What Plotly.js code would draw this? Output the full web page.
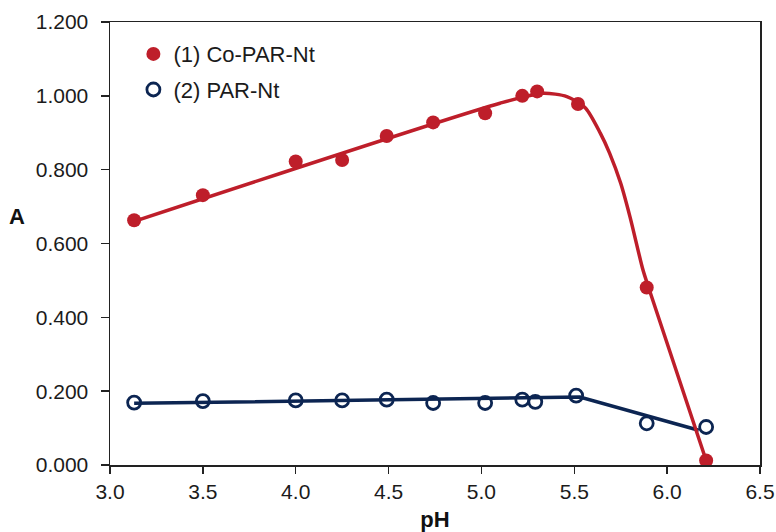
<!DOCTYPE html>
<html>
<head>
<meta charset="utf-8">
<script src="https://cdn.plot.ly/plotly-3.0.1.min.js"></script>
<style>
  html, body { margin: 0; padding: 0; background: #ffffff; }
  #chart { width: 776px; height: 532px; }
</style>
</head>
<body>
<div id="chart"></div>
<script>
// Absorbance vs pH: measured points
const phCo  = [3.13, 3.50, 4.00, 4.25, 4.49, 4.74, 5.02, 5.22, 5.30, 5.52, 5.89, 6.21];
const aCo   = [0.663, 0.731, 0.822, 0.826, 0.891, 0.928, 0.953, 1.000, 1.012, 0.978, 0.481, 0.012];
const phPar = [3.13, 3.50, 4.00, 4.25, 4.49, 4.74, 5.02, 5.22, 5.29, 5.51, 5.89, 6.21];
const aPar  = [0.169, 0.173, 0.175, 0.175, 0.177, 0.168, 0.168, 0.177, 0.171, 0.188, 0.113, 0.103];

// Trend curves drawn through the points
const coFitX  = [3.13, 5.10, 5.33, 5.46, 5.56, 5.64, 5.69, 5.75, 5.80, 5.87, 5.90, 6.21];
const coFitY  = [0.660, 0.980, 1.007, 0.998, 0.967, 0.899, 0.845, 0.763, 0.672, 0.528, 0.481, 0.012];
const parFitX = [3.13, 5.53, 6.17];
const parFitY = [0.167, 0.184, 0.094];

const seriesNames = ['(1) Co-PAR-Nt', '(2) PAR-Nt'];
const axisTitleX = 'pH';
const axisTitleY = 'A';

const RED = '#BE1E2A';
const NAVY = '#0C2552';
const FONT = 'Liberation Sans, Arial, sans-serif';

const traces = [
  { x: parFitX, y: parFitY, mode: 'lines', line: { color: NAVY, width: 3.5 },
    showlegend: false, hoverinfo: 'skip' },
  { x: coFitX, y: coFitY, mode: 'lines', line: { color: RED, width: 3.5, shape: 'spline', smoothing: 0.7 },
    showlegend: false, hoverinfo: 'skip' },
  { x: phCo, y: aCo, mode: 'markers', name: seriesNames[0], legendgroup: 'g1',
    marker: { symbol: 'circle', size: 14, color: RED } },
  { x: phPar, y: aPar, mode: 'markers', name: seriesNames[1], legendgroup: 'g2',
    marker: { symbol: 'circle-open', size: 13, color: NAVY, line: { width: 2.8, color: NAVY } } }
];

const layout = {
  width: 776, height: 532,
  paper_bgcolor: '#ffffff', plot_bgcolor: '#ffffff',
  margin: { l: 110, r: 16, t: 22, b: 67, pad: 0 },
  font: { family: FONT, size: 21, color: '#1b1b1b' },
  showlegend: true,
  legend: {
    x: 0.036, y: 0.975, xanchor: 'left', yanchor: 'top',
    bgcolor: 'rgba(0,0,0,0)', borderwidth: 0,
    font: { family: FONT, size: 22, color: '#1b1b1b' },
    traceorder: 'grouped', tracegroupgap: 4
  },
  xaxis: {
    range: [3.0, 6.5], dtick: 0.5, tick0: 3.0, tickformat: '.1f',
    showgrid: false, zeroline: false,
    showline: true, linecolor: '#222', linewidth: 1.5, mirror: true,
    ticks: 'outside', ticklen: 7, tickwidth: 1.5, tickcolor: '#222',
    title: { text: '<b>' + axisTitleX + '</b>', font: { family: FONT, size: 22, color: '#111' }, standoff: 11 }
  },
  yaxis: {
    range: [0, 1.2], dtick: 0.2, tick0: 0, tickformat: '.3f',
    showgrid: false, zeroline: false,
    showline: true, linecolor: '#222', linewidth: 1.5, mirror: true,
    ticks: 'outside', ticklen: 8, tickwidth: 1.5, tickcolor: '#222',
    ticklabelstandoff: 8
  },
  annotations: [{
    text: '<b>' + axisTitleY + '</b>', xref: 'paper', yref: 'paper',
    x: -0.143, y: 0.562, xanchor: 'center', yanchor: 'middle', showarrow: false,
    font: { family: FONT, size: 22, color: '#111' }
  }]
};

Plotly.newPlot('chart', traces, layout, { displayModeBar: false, staticPlot: true });
</script>
</body>
</html>
